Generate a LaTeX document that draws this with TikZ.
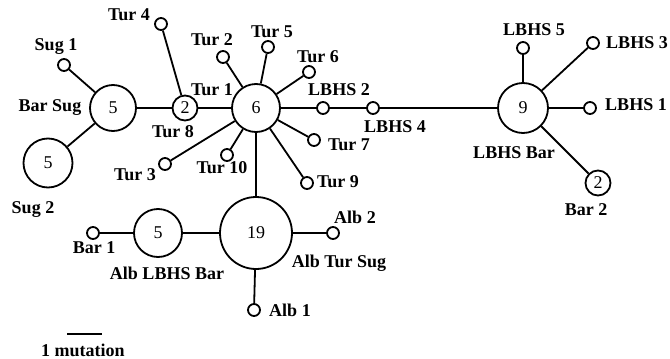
\documentclass[tikz,border=0pt]{standalone}
\usepackage{fontspec}
\setmainfont{Liberation Serif}

\begin{document}
\begin{tikzpicture}[x=1pt,y=-1pt,line width=1.8pt,
  hap/.style={circle,draw=black,fill=white,inner sep=0pt,font=\fontsize{18}{20}\selectfont},
  tip/.style={circle,draw=black,fill=white,inner sep=0pt,minimum size=12pt},
  hapname/.style={inner sep=0pt,font=\fontsize{18}{20}\selectfont\bfseries}]
\useasboundingbox (0,0) rectangle (670,359);
\node[hap,minimum size=46pt] (hap-bar-sug) at (113,108) {5};
\node[hap,minimum size=49pt] (hap-sug-2) at (48,163) {5};
\node[hap,minimum size=25pt] (hap-tur-8) at (185,108) {2};
\node[hap,minimum size=48pt] (hap-tur-1) at (256,108) {6};
\node[hap,minimum size=50pt] (hap-lbhs-bar) at (523,108) {9};
\node[hap,minimum size=25pt] (hap-bar-2) at (598,183) {2};
\node[hap,minimum size=72pt] (hap-alb-tur-sug) at (256,233) {19};
\node[hap,minimum size=48pt] (hap-alb-lbhs-bar) at (158,233) {5};
\node[tip] (hap-sug-1) at (64,65) {};
\node[tip] (hap-tur-4) at (161,24) {};
\node[tip] (hap-tur-2) at (223,57) {};
\node[tip] (hap-tur-5) at (268,47) {};
\node[tip] (hap-tur-6) at (309,72) {};
\node[tip] (hap-lbhs-2) at (323,108) {};
\node[tip] (hap-lbhs-4) at (373,108) {};
\node[tip] (hap-tur-7) at (314,140) {};
\node[tip] (hap-tur-9) at (307,183) {};
\node[tip] (hap-tur-10) at (227,155) {};
\node[tip] (hap-tur-3) at (165,164) {};
\node[tip] (hap-lbhs-5) at (523,48) {};
\node[tip] (hap-lbhs-3) at (593,43) {};
\node[tip] (hap-lbhs-1) at (590,108) {};
\node[tip] (hap-bar-1) at (93,233) {};
\node[tip] (hap-alb-2) at (333,233) {};
\node[tip] (hap-alb-1) at (254,310) {};
\draw (hap-bar-sug) -- (hap-sug-1);
\draw (hap-bar-sug) -- (hap-sug-2);
\draw (hap-bar-sug) -- (hap-tur-8);
\draw (hap-tur-8) -- (hap-tur-4);
\draw (hap-tur-8) -- (hap-tur-1);
\foreach \t in {tur-2,tur-5,tur-6,lbhs-2,tur-7,tur-9,tur-10,tur-3,alb-tur-sug}
  \draw (hap-tur-1) -- (hap-\t);
\draw (hap-lbhs-2) -- (hap-lbhs-4) -- (hap-lbhs-bar);
\foreach \t in {lbhs-5,lbhs-3,lbhs-1,bar-2}
  \draw (hap-lbhs-bar) -- (hap-\t);
\draw (hap-alb-tur-sug) -- (hap-alb-lbhs-bar) -- (hap-bar-1);
\draw (hap-alb-tur-sug) -- (hap-alb-2);
\draw (hap-alb-tur-sug) -- (hap-alb-1);
\node[hapname] (name-sug-1) at (56,47) {Sug 1};
\node[hapname] (name-tur-4) at (129,15) {Tur 4};
\node[hapname] (name-tur-2) at (212,40) {Tur 2};
\node[hapname] (name-tur-5) at (272,32) {Tur 5};
\node[hapname] (name-tur-6) at (318,57) {Tur 6};
\node[hapname] (name-tur-1) at (212,90) {Tur 1};
\node[hapname] (name-bar-sug) at (50,108) {Bar Sug};
\node[hapname] (name-tur-8) at (173,132) {Tur 8};
\node[hapname] (name-tur-3) at (135,175) {Tur 3};
\node[hapname] (name-tur-10) at (222,168) {Tur 10};
\node[hapname] (name-tur-9) at (338,182) {Tur 9};
\node[hapname] (name-tur-7) at (349,145) {Tur 7};
\node[hapname] (name-lbhs-2) at (339,90) {LBHS 2};
\node[hapname] (name-lbhs-4) at (395,127) {LBHS 4};
\node[hapname] (name-lbhs-5) at (534,30) {LBHS 5};
\node[hapname] (name-lbhs-3) at (637,43) {LBHS 3};
\node[hapname] (name-lbhs-1) at (636,105) {LBHS 1};
\node[hapname] (name-lbhs-bar) at (514,153) {LBHS Bar};
\node[hapname] (name-bar-2) at (586,210) {Bar 2};
\node[hapname] (name-sug-2) at (33,210) {Sug 2};
\node[hapname] (name-bar-1) at (94,248) {Bar 1};
\node[hapname] (name-alb-lbhs-bar) at (167,273) {Alb LBHS Bar};
\node[hapname] (name-alb-tur-sug) at (339,263) {Alb Tur Sug};
\node[hapname] (name-alb-2) at (355,217) {Alb 2};
\node[hapname] (name-alb-1) at (290,310) {Alb 1};
\coordinate (scale-left) at (67,334);
\coordinate (scale-right) at (102,334);
\draw (scale-left) -- (scale-right);
\node[hapname] (scale-label) at (83,350) {1 mutation};
\end{tikzpicture}
\end{document}
